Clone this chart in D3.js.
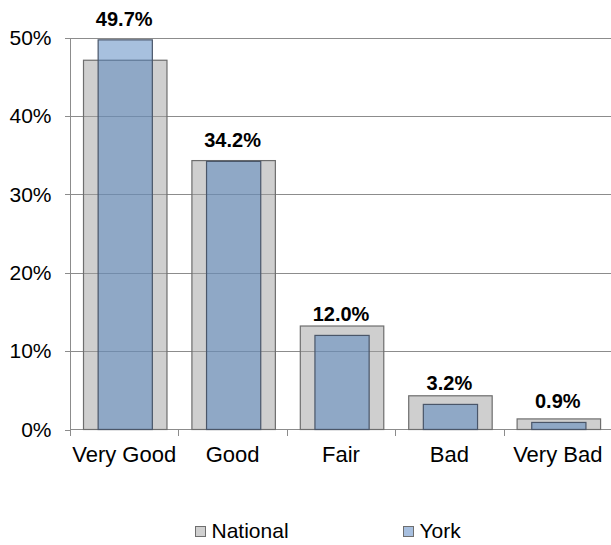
<!DOCTYPE html>
<html>
<head>
<meta charset="utf-8" />
<style>
	body { margin: 0; background: #fff; }
	svg { display: block; font-family: 'Liberation Sans', Arial, sans-serif; }
	.grid line { stroke: #8c8c8c; shape-rendering: crispEdges; }
	.grid path { stroke-width: 0; }
	.axis path, .axis line { stroke: #8c8c8c; shape-rendering: crispEdges; }
	.axis text { fill: #000; font-size: 21px; }
</style>
</head>
<body>
<div class="chart"></div>
<script src="https://d3js.org/d3.v7.min.js"></script>
<script>

//// data ////
var categories = ['Very Good', 'Good', 'Fair', 'Bad', 'Very Bad'];
var national = [47.1, 34.3, 13.2, 4.3, 1.35];
var york = [49.7, 34.2, 12.0, 3.2, 0.9];
var yTicks = [0, 10, 20, 30, 40, 50];
var seriesNames = ['National', 'York'];

var width = 611, height = 545;

var svg = d3.select('.chart').append('svg')
	.attr('width', width)
	.attr('height', height);

// scales
var x = d3.scaleBand().domain(categories).range([70, 612]).padding(0);
var y = d3.scaleLinear().domain([0, 50]).range([429.5, 37.5]);

// gridlines
svg.append('g')
	.attr('class', 'grid')
	.attr('transform', 'translate(70,0)')
	.call(d3.axisLeft(y).tickValues(yTicks.slice(1)).tickSize(-542).tickFormat(''));

// y axis
svg.append('g')
	.attr('class', 'axis')
	.attr('transform', 'translate(70.5,0)')
	.call(d3.axisLeft(y).tickValues(yTicks).tickSize(6).tickPadding(13)
		.tickFormat(function (d) { return d + '%'; }))
	.call(function (g) { g.select('.domain').attr('d', 'M0,' + y(50) + 'V' + (y(0) + 6)); });

// x axis: ticks at category boundaries
var xAxis = svg.append('g')
	.attr('class', 'axis')
	.attr('transform', 'translate(0,' + y(0) + ')');
xAxis.append('line').attr('x1', 70).attr('x2', 612).attr('y1', 0).attr('y2', 0);
xAxis.selectAll('.tk')
	.data(categories)
	.enter().append('line')
	.attr('x1', function (d) { return Math.round(x(d)) + 0.5; })
	.attr('x2', function (d) { return Math.round(x(d)) + 0.5; })
	.attr('y1', 0).attr('y2', 6);
xAxis.selectAll('text')
	.data(categories)
	.enter().append('text')
	.attr('x', function (d) { return x(d) + x.bandwidth() / 2; })
	.attr('y', 32.5)
	.attr('text-anchor', 'middle')
	.style('font-size', '22px')
	.text(function (d) { return d; });

var bw = x.bandwidth();

// national bars
svg.selectAll('.nat')
	.data(categories)
	.enter().append('rect')
	.attr('x', function (d) { return x(d) + bw * 0.12 + 0.5; })
	.attr('width', bw * 0.77)
	.attr('y', function (d, i) { return y(national[i]); })
	.attr('height', function (d, i) { return y(0) - y(national[i]); })
	.attr('fill', 'rgba(160,160,160,0.5)')
	.attr('stroke', '#6e6e6e')
	.attr('stroke-width', 1.2);

// york bars
svg.selectAll('.york')
	.data(categories)
	.enter().append('rect')
	.attr('x', function (d) { return x(d) + bw * 0.255 + 0.5; })
	.attr('width', bw * 0.5)
	.attr('y', function (d, i) { return y(york[i]); })
	.attr('height', function (d, i) { return y(0) - y(york[i]); })
	.attr('fill', 'rgba(79,129,189,0.5)')
	.attr('stroke', '#4a5669')
	.attr('stroke-width', 1.2);

// value labels
svg.selectAll('.lbl')
	.data(categories)
	.enter().append('text')
	.attr('x', function (d) { return x(d) + bw / 2; })
	.attr('y', function (d, i) { return y(york[i]) - 14; })
	.attr('text-anchor', 'middle')
	.attr('font-size', '20px')
	.attr('font-weight', 'bold')
	.text(function (d, i) { return york[i].toFixed(1) + '%'; });

// legend
var legend = svg.append('g');
var lx = [195.5, 403.5];
var lfill = ['#d0d0d0', '#a7bfdf'];
seriesNames.forEach(function (name, i) {
	legend.append('rect')
		.attr('x', lx[i]).attr('y', 526.5)
		.attr('width', 10).attr('height', 10)
		.attr('fill', lfill[i])
		.attr('stroke', '#6e6e6e');
	legend.append('text')
		.attr('x', lx[i] + 16).attr('y', 538)
		.attr('font-size', '21px')
		.text(name);
});

</script>
</body>
</html>
